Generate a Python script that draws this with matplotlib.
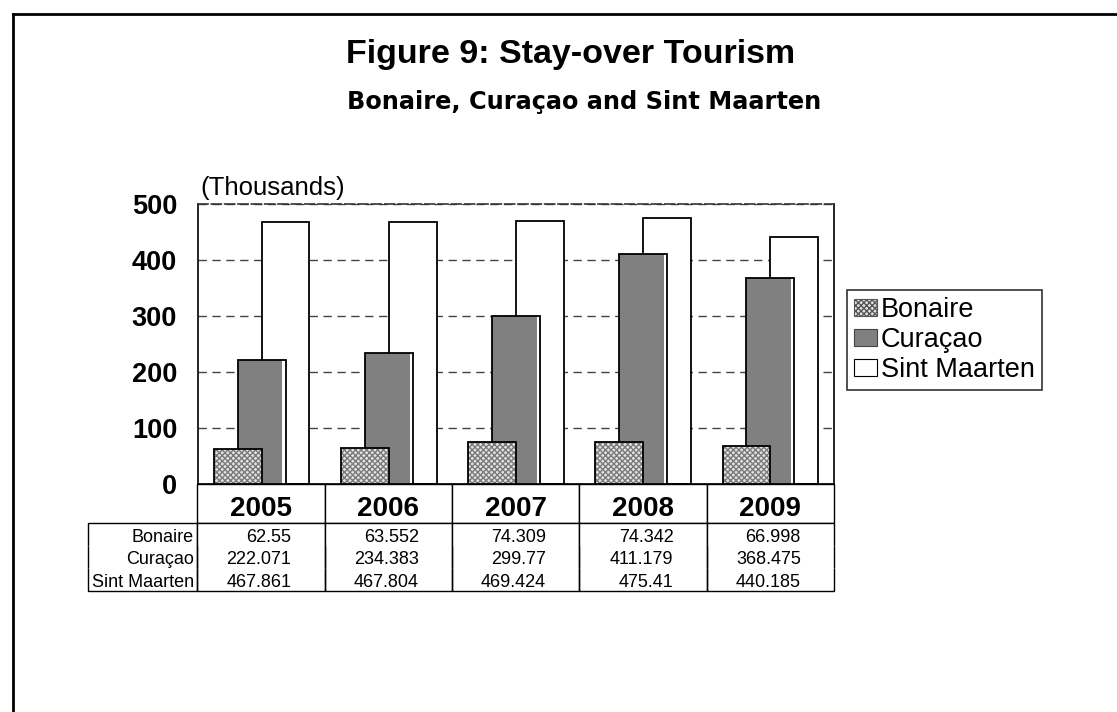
import numpy as np
import matplotlib
matplotlib.use("Agg")
import matplotlib.pyplot as plt
from matplotlib.patches import Patch
from matplotlib.lines import Line2D
from matplotlib.transforms import Affine2D

plt.rcParams['font.family'] = ['Liberation Sans', 'DejaVu Sans']

years = ['2005', '2006', '2007', '2008', '2009']
series = ['Bonaire', 'Curaçao', 'Sint Maarten']
bonaire = [62.55, 63.552, 74.309, 74.342, 66.998]
curacao = [222.071, 234.383, 299.77, 411.179, 368.475]
sint_maarten = [467.861, 467.804, 469.424, 475.41, 440.185]
yticks = [0, 100, 200, 300, 400, 500]

W, H = 1117, 712
fig = plt.figure(figsize=(W / 100, H / 100), dpi=100)

# plot area in pixels: x 198..834, y 204..484
ax = fig.add_axes([198 / W, 1 - 484 / H, (834 - 198) / W, (484 - 204) / H])

x = np.arange(len(years))
bw = 0.377
step = 0.188
strip = 0.025

# Sint Maarten (back)
ax.bar(x + step, sint_maarten, width=bw, color='white', edgecolor='black', lw=1.3, zorder=2)
# Curacao: gray fill with white strip on the right
ax.bar(x, curacao, width=bw, color='white', edgecolor='none', zorder=3)
ax.bar(x - strip / 2, curacao, width=bw - strip, color='#808080', edgecolor='none', zorder=3.1)
ax.bar(x, curacao, width=bw, fill=False, edgecolor='black', lw=1.3, zorder=3.2)
# Bonaire (front), dotted texture
ax.bar(x - step, bonaire, width=bw, color='#e4e4e4', edgecolor='#7a7a7a', hatch='xxxxxx', lw=0, zorder=4)
ax.bar(x - step, bonaire, width=bw, fill=False, edgecolor='black', lw=1.3, zorder=4.1)

ax.set_xlim(-0.5, len(years) - 0.5)
ax.set_ylim(0, 500)
ax.set_yticks(yticks)
ax.set_yticklabels([str(t) for t in yticks], fontsize=19.5, fontweight='bold')
ax.tick_params(axis='y', length=0, pad=15)
ax.set_xticks([])
ax.yaxis.grid(True, linestyle=(0, (6, 4)), color='#444444', lw=1)
ax.set_axisbelow(True)
for s in ['left', 'right', 'bottom']:
    ax.spines[s].set_linewidth(1.2)
ax.spines['top'].set_linestyle((0, (6, 2)))
ax.spines['top'].set_color('#333333')
ax.spines['top'].set_linewidth(1.2)

# data table under the plot; first column holds the series names
cell_text = [[name] + [str(v) for v in row]
             for name, row in zip(series, (bonaire, curacao, sint_maarten))]
head_h, row_h = 39, 22.5
tab_h = head_h + 3 * row_h
left = -(198 - 88) / 636
tbl = ax.table(cellText=cell_text, colLabels=[''] + years,
               cellLoc='right', colLoc='center',
               bbox=[left, -tab_h / 280, 1 - left, tab_h / 280])
tbl.auto_set_font_size(False)
for (r, c), cell in tbl.get_celld().items():
    cell.set_linewidth(1.0)
    cell.set_width(109 if c == 0 else 127.2)
    txt = cell.get_text()
    if r == 0:
        cell.set_height(head_h)
        cell.visible_edges = 'open' if c == 0 else 'closed'
        txt.set_fontsize(20)
        txt.set_fontweight('bold')
        txt.set_transform(Affine2D().translate(0, -6))
    else:
        cell.set_height(row_h)
        txt.set_fontsize(13)
        txt.set_transform(Affine2D().translate(0, -3))
        cell.visible_edges = {1: 'TLR', 2: 'LR', 3: 'BLR'}[r]
        cell.PAD = 0.03 if c == 0 else 0.26

# titles
fig.text(571 / W, 1 - 55 / H, 'Figure 9: Stay-over Tourism', fontsize=24.5,
         fontweight='bold', ha='center', va='center')
fig.text(584 / W, 1 - 102 / H, 'Bonaire, Curaçao and Sint Maarten', fontsize=17.3,
         fontweight='bold', ha='center', va='center', family=['DejaVu Sans'])
fig.text(200 / W, 1 - 188 / H, '(Thousands)', fontsize=18.5, ha='left', va='center')

# legend
handles = [Patch(facecolor='#e4e4e4', edgecolor='#555555', hatch='xxxxxx', lw=0.8),
           Patch(facecolor='#808080', edgecolor='#444444', lw=0.8),
           Patch(facecolor='white', edgecolor='black', lw=0.8)]
leg = fig.legend(handles, series, loc='upper left', bbox_to_anchor=(847 / W, 1 - 290 / H),
                 fontsize=19.5, frameon=True, fancybox=False, edgecolor='black',
                 handlelength=0.85, handleheight=0.6, handletextpad=0.15,
                 labelspacing=0.15, borderpad=0.25, borderaxespad=0)
leg.get_frame().set_linewidth(1.2)

# outer chart-area border (left and top)
fig.add_artist(Line2D([13 / W, 13 / W], [0, 1 - 14 / H], transform=fig.transFigure,
                      color='black', lw=2))
fig.add_artist(Line2D([13 / W, 1], [1 - 14 / H, 1 - 14 / H], transform=fig.transFigure,
                      color='black', lw=2))

fig.savefig('out.png', dpi=100, facecolor='white')
